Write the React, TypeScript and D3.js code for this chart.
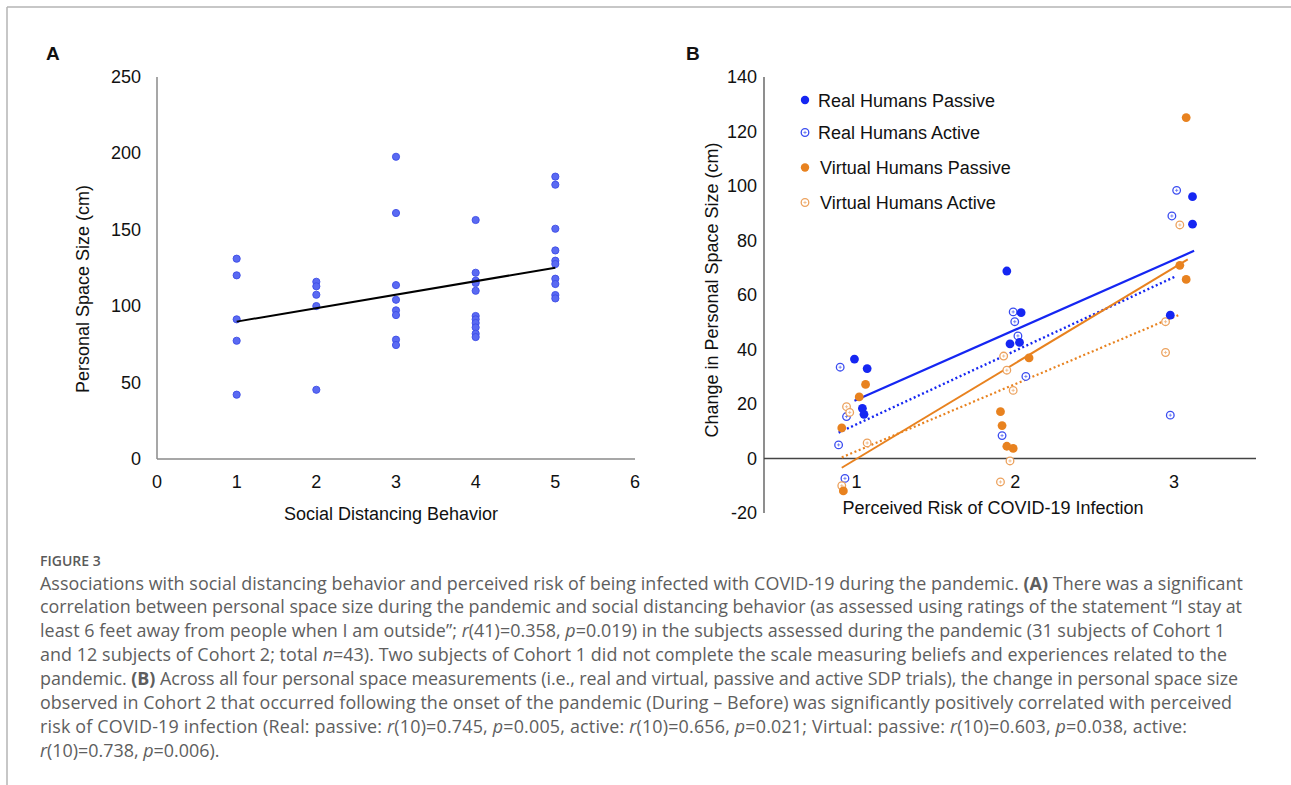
import React from 'react';
import * as d3 from 'd3';

// ---- Panel A: personal space size by social distancing behavior ----
const behaviorTicks = [0, 1, 2, 3, 4, 5, 6];
const spaceTicks = [0, 50, 100, 150, 200, 250];
const sizeAtLevel1 = [131.1, 120.2, 91.4, 77.4, 42.1];
const sizeAtLevel2 = [116.0, 113.0, 107.5, 100.1, 45.3];
const sizeAtLevel3 = [197.8, 161.0, 113.8, 104.2, 97.3, 94.2, 78.1, 74.6];
const sizeAtLevel4 = [156.4, 121.9, 116.7, 115.2, 110.1, 93.6, 91.4, 89.0, 86.1, 82.0, 79.8];
const sizeAtLevel5 = [184.8, 179.5, 150.7, 136.5, 129.8, 127.6, 118.0, 114.5, 107.3, 105.1];
const fitAX = [1, 5];
const fitAY = [89.9, 125.2];

// ---- Panel B: change in personal space vs perceived risk ----
const riskTicks = [1, 2, 3];
const changeTicks = [-20, 0, 20, 40, 60, 80, 100, 120, 140];
const realPassiveX = [1.0, 1.08, 1.05, 1.06, 1.96, 2.05, 1.98, 2.04, 3.13, 3.13, 2.99];
const realPassiveY = [36.5, 33.0, 18.4, 16.2, 68.8, 53.5, 42.1, 42.6, 96.1, 86.0, 52.6];
const realActiveX = [0.91, 0.95, 0.9, 0.94, 2.0, 2.01, 2.03, 2.08, 1.93, 3.03, 3.0, 2.99];
const realActiveY = [33.5, 15.4, 5.0, -7.3, 53.8, 50.2, 45.0, 30.1, 8.4, 98.4, 89.0, 15.9];
const virtualPassiveX = [1.07, 1.03, 0.92, 0.93, 2.1, 1.92, 1.93, 1.96, 2.0, 3.09, 3.05, 3.09];
const virtualPassiveY = [27.2, 22.6, 11.2, -11.9, 36.9, 17.2, 12.1, 4.5, 3.7, 125.1, 70.9, 65.7];
const virtualActiveX = [0.95, 0.97, 1.08, 0.92, 1.94, 1.96, 2.0, 1.98, 1.92, 3.05, 2.96, 2.96];
const virtualActiveY = [19.0, 16.9, 5.7, -10.0, 37.6, 32.4, 25.0, -0.9, -8.6, 85.7, 50.2, 38.9];
const realPassiveFit = [[1.0, 21.2], [3.14, 76.2]];
const realActiveFit = [[0.9, 9.5], [3.03, 67.0]];
const virtualPassiveFit = [[0.92, -3.4], [3.1, 73.1]];
const virtualActiveFit = [[0.92, 0.4], [3.04, 52.6]];
const legendLabels = ['Real Humans Passive', 'Real Humans Active', 'Virtual Humans Passive', 'Virtual Humans Active'];

type Seg = [string, string?];
const captionLines: Seg[][] = [
  [['Associations with social distancing behavior and perceived risk of being infected with COVID-19 during the pandemic. '], ['(A)', 'b'], [' There was a significant']],
  [['correlation between personal space size during the pandemic and social distancing behavior (as assessed using ratings of the statement \u201cI stay at']],
  [['least 6 feet away from people when I am outside\u201d; '], ['r', 'i'], ['(41)=0.358, '], ['p', 'i'], ['=0.019) in the subjects assessed during the pandemic (31 subjects of Cohort 1']],
  [['and 12 subjects of Cohort 2; total '], ['n', 'i'], ['=43). Two subjects of Cohort 1 did not complete the scale measuring beliefs and experiences related to the']],
  [['pandemic. '], ['(B)', 'b'], [' Across all four personal space measurements (i.e., real and virtual, passive and active SDP trials), the change in personal space size']],
  [['observed in Cohort 2 that occurred following the onset of the pandemic (During \u2013 Before) was significantly positively correlated with perceived']],
  [['risk of COVID-19 infection (Real: passive: '], ['r', 'i'], ['(10)=0.745, '], ['p', 'i'], ['=0.005, active: '], ['r', 'i'], ['(10)=0.656, '], ['p', 'i'], ['=0.021; Virtual: passive: '], ['r', 'i'], ['(10)=0.603, '], ['p', 'i'], ['=0.038, active:']],
  [['r', 'i'], ['(10)=0.738, '], ['p', 'i'], ['=0.006).']],
];
// measured widths of the justified caption lines (last line free)
const captionWidths = [1203, 1202, 1185, 1187, 1198, 1192, 1147, 0];

const BLUE = '#1526f2';
const ORANGE = '#e8821f';
const ORANGE_LIGHT = '#eca25e';
const CHART_FONT = '"Liberation Sans", Arial, sans-serif';

const ActiveMarker: React.FC<{ cx: number; cy: number; color: string }> = ({ cx, cy, color }) => (
  <g transform={`translate(${cx},${cy})`}>
    <circle r={3.8} fill="#fff" stroke={color} strokeWidth={1.3} />
    <path d="M-1.6,0H1.6M0,-1.6V1.6" stroke={color} strokeWidth={0.8} opacity={0.8} />
  </g>
);

export default function App() {
  // panel A scales
  const xA = d3.scaleLinear().domain([0, 6]).range([157, 635]);
  const yA = d3.scaleLinear().domain([0, 250]).range([459, 77]);
  const groupsA = [sizeAtLevel1, sizeAtLevel2, sizeAtLevel3, sizeAtLevel4, sizeAtLevel5];
  const pointsA = groupsA.flatMap((vals, i) => vals.map(v => [behaviorTicks[i + 1], v]));
  const fitLineA = d3.line<number>().x(d => xA(fitAX[d])).y(d => yA(fitAY[d]));

  // panel B scales
  const xB = d3.scaleLinear().domain([0.43, 3.53]).range([764, 1256]);
  const yB = d3.scaleLinear().domain([-20, 140]).range([513, 77]);
  const lineB = d3.line<number[]>().x(d => xB(d[0])).y(d => yB(d[1]));
  const zip = (xs: number[], ys: number[]) => xs.map((x, i) => [x, ys[i]]);

  const fits = [
    { pts: realPassiveFit, color: BLUE, dash: undefined, w: 2.2 },
    { pts: realActiveFit, color: BLUE, dash: '2 2.6', w: 2.4 },
    { pts: virtualPassiveFit, color: ORANGE, dash: undefined, w: 2 },
    { pts: virtualActiveFit, color: ORANGE, dash: '2 2.6', w: 2.2 },
  ];

  return (
    <svg width={1291} height={785} style={{ position: 'absolute', left: 0, top: 0, background: '#fff' }}>
      {/* frame */}
      <line x1={7} y1={7} x2={1291} y2={7} stroke="#b5b5b5" strokeWidth={1.5} />
      <line x1={7} y1={7} x2={7} y2={785} stroke="#b5b5b5" strokeWidth={1.5} />

      <g fontFamily={CHART_FONT} fill="#111">
        {/* ---------- Panel A ---------- */}
        <text x={46} y={60} fontSize={19} fontWeight="bold">A</text>
        <line x1={xA(0)} y1={yA(250)} x2={xA(0)} y2={yA(0)} stroke="#8a8a8a" strokeWidth={1.5} />
        <line x1={xA(0)} y1={yA(0)} x2={xA(6)} y2={yA(0)} stroke="#8a8a8a" strokeWidth={1.5} />
        {spaceTicks.map(t => (
          <text key={t} x={141} y={yA(t) + 6} fontSize={18} textAnchor="end">{t}</text>
        ))}
        {behaviorTicks.map(t => (
          <text key={t} x={xA(t)} y={488} fontSize={18} textAnchor="middle">{t}</text>
        ))}
        <text x={391} y={520} fontSize={18} textAnchor="middle">Social Distancing Behavior</text>
        <text transform="translate(89,289) rotate(-90)" fontSize={18} textAnchor="middle">Personal Space Size (cm)</text>
        {pointsA.map((p, i) => (
          <circle key={i} cx={xA(p[0])} cy={yA(p[1])} r={3.6} fill="#5a6af2" stroke="#3d4de6" strokeWidth={0.9} />
        ))}
        <path d={fitLineA([0, 1]) || ''} fill="none" stroke="#000" strokeWidth={2} />

        {/* ---------- Panel B ---------- */}
        <text x={686} y={60} fontSize={19} fontWeight="bold">B</text>
        <line x1={764} y1={yB(140)} x2={764} y2={yB(-20)} stroke="#444" strokeWidth={1.2} />
        <line x1={764} y1={yB(0)} x2={xB(3.53)} y2={yB(0)} stroke="#444" strokeWidth={1.3} />
        {changeTicks.map(t => (
          <text key={t} x={757} y={yB(t) + 6} fontSize={18} textAnchor="end">{t}</text>
        ))}
        {riskTicks.map(t => (
          <text key={t} x={xB(t) + 2} y={488} fontSize={18} textAnchor="middle">{t}</text>
        ))}
        <text x={993} y={514} fontSize={18} textAnchor="middle">Perceived Risk of COVID-19 Infection</text>
        <text transform="translate(718,290) rotate(-90)" fontSize={18} textAnchor="middle">Change in Personal Space Size (cm)</text>

        {fits.map((f, i) => (
          <path key={i} d={lineB(f.pts) || ''} fill="none" stroke={f.color} strokeWidth={f.w} strokeDasharray={f.dash} />
        ))}

        {zip(realActiveX, realActiveY).map((p, i) => (
          <ActiveMarker key={'ra' + i} cx={xB(p[0])} cy={yB(p[1])} color="#3a4cf0" />
        ))}
        {zip(virtualActiveX, virtualActiveY).map((p, i) => (
          <ActiveMarker key={'va' + i} cx={xB(p[0])} cy={yB(p[1])} color={ORANGE_LIGHT} />
        ))}
        {zip(virtualPassiveX, virtualPassiveY).map((p, i) => (
          <circle key={'vp' + i} cx={xB(p[0])} cy={yB(p[1])} r={4.4} fill={ORANGE} />
        ))}
        {zip(realPassiveX, realPassiveY).map((p, i) => (
          <circle key={'rp' + i} cx={xB(p[0])} cy={yB(p[1])} r={4.4} fill={BLUE} />
        ))}

        {/* legend */}
        {legendLabels.map((lab, i) => {
          const cy = [100, 132.5, 167.5, 202.5][i];
          return (
            <g key={lab}>
              {i % 2 === 0 ? (
                <circle cx={805} cy={cy} r={4.2} fill={i === 0 ? BLUE : ORANGE} />
              ) : (
                <ActiveMarker cx={805} cy={cy} color={i === 1 ? '#3a4cf0' : ORANGE_LIGHT} />
              )}
              <text x={i < 2 ? 818 : 820} y={cy + 6.5} fontSize={18}>{lab}</text>
            </g>
          );
        })}
      </g>

      {/* caption */}
      <g fontFamily='"Open Sans", "Noto Sans", sans-serif' fill="#5e5e5e">
        <text x={40} y={566} fontSize={14} fontWeight={600} fill="#5a5a5a">FIGURE 3</text>
        {captionLines.map((segs, li) => (
          <text
            key={li}
            x={40}
            y={589.5 + li * 23.9}
            fontSize={17.9}
            textLength={captionWidths[li] || undefined}
            lengthAdjust={captionWidths[li] ? 'spacing' : undefined}
          >
            {segs.map((s, si) => (
              <tspan key={si} fontStyle={s[1] === 'i' ? 'italic' : undefined} fontWeight={s[1] === 'b' ? 'bold' : undefined}>
                {s[0]}
              </tspan>
            ))}
          </text>
        ))}
      </g>
    </svg>
  );
}
